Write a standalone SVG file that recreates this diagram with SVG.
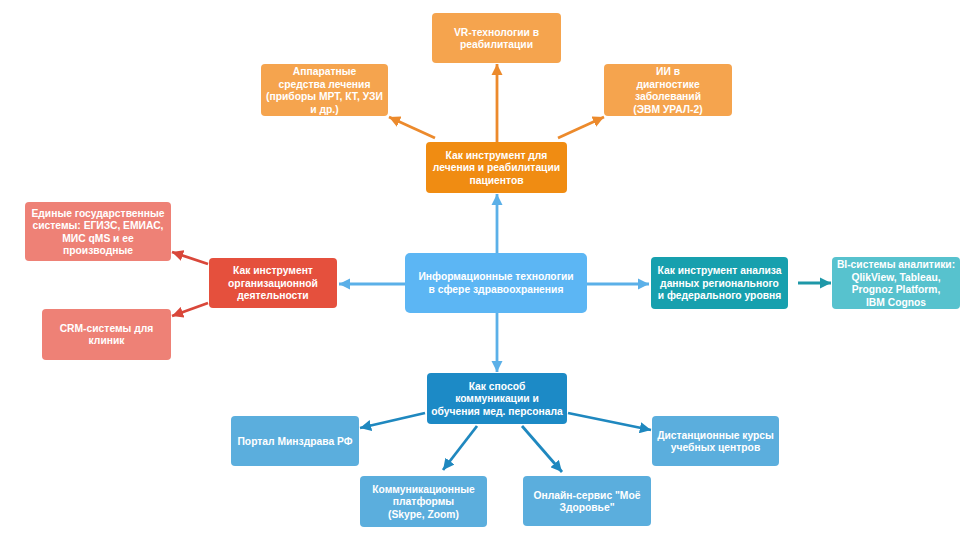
<svg xmlns="http://www.w3.org/2000/svg" width="975" height="537" viewBox="0 0 975 537">
<style>
text{font-family:"Liberation Sans",Arial,sans-serif;font-size:10.3px;font-weight:bold;fill:#fff;text-anchor:middle}
.box{stroke:none}
.ln{fill:none;stroke-width:2.8}
.o1{fill:#F08C12}.o2{fill:#F5A44E}
.r1{fill:#E5503D}.r2{fill:#EE8176}
.c{fill:#5CB6F4}
.t1{fill:#17A0AE}.t2{fill:#57C2CE}
.b1{fill:#1C8AC6}.b2{fill:#5BAEDD}
</style>
<defs>
<marker id="ao" viewBox="0 0 10 10" refX="10" refY="5" markerWidth="4" markerHeight="4" orient="auto"><path d="M0,0 L10,5 L0,10 z" fill="#EC8A2C"/></marker>
<marker id="ar" viewBox="0 0 10 10" refX="10" refY="5" markerWidth="4" markerHeight="4" orient="auto"><path d="M0,0 L10,5 L0,10 z" fill="#D9473A"/></marker>
<marker id="ac" viewBox="0 0 10 10" refX="10" refY="5" markerWidth="4" markerHeight="4" orient="auto"><path d="M0,0 L10,5 L0,10 z" fill="#5BB0E8"/></marker>
<marker id="at" viewBox="0 0 10 10" refX="10" refY="5" markerWidth="4" markerHeight="4" orient="auto"><path d="M0,0 L10,5 L0,10 z" fill="#1E98A8"/></marker>
<marker id="ab" viewBox="0 0 10 10" refX="10" refY="5" markerWidth="4" markerHeight="4" orient="auto"><path d="M0,0 L10,5 L0,10 z" fill="#1F88BF"/></marker>
</defs>
<rect width="975" height="537" fill="#fff"/>
<g id="connectors">
<line class="ln" stroke="#EC8A2C" marker-end="url(#ao)" x1="497" y1="142" x2="497" y2="64"/>
<line class="ln" stroke="#EC8A2C" marker-end="url(#ao)" x1="435" y1="138" x2="389" y2="117"/>
<line class="ln" stroke="#EC8A2C" marker-end="url(#ao)" x1="558" y1="138" x2="604" y2="117"/>
<line class="ln" stroke="#D9473A" marker-end="url(#ar)" x1="208" y1="264" x2="172" y2="252"/>
<line class="ln" stroke="#D9473A" marker-end="url(#ar)" x1="208" y1="303" x2="172" y2="316"/>
<line class="ln" stroke="#5BB0E8" marker-end="url(#ac)" x1="497" y1="253" x2="497" y2="194"/>
<line class="ln" stroke="#5BB0E8" marker-end="url(#ac)" x1="405" y1="284" x2="339" y2="284"/>
<line class="ln" stroke="#5BB0E8" marker-end="url(#ac)" x1="587" y1="284" x2="649" y2="284"/>
<line class="ln" stroke="#5BB0E8" marker-end="url(#ac)" x1="497" y1="313" x2="497" y2="372"/>
<line class="ln" stroke="#1E98A8" marker-end="url(#at)" x1="798" y1="283" x2="831" y2="283"/>
<line class="ln" stroke="#1F88BF" marker-end="url(#ab)" x1="425" y1="413" x2="360" y2="428"/>
<line class="ln" stroke="#1F88BF" marker-end="url(#ab)" x1="477" y1="426" x2="443" y2="470"/>
<line class="ln" stroke="#1F88BF" marker-end="url(#ab)" x1="522" y1="426" x2="562" y2="472"/>
<line class="ln" stroke="#1F88BF" marker-end="url(#ab)" x1="568" y1="413" x2="651" y2="430"/>
</g>
<g id="n-vr"><rect class="box o2" x="432" y="13" width="129" height="50" rx="4"/>
<text x="496.5" y="35.5">VR-технологии в</text><text x="496.5" y="48">реабилитации</text></g>
<g id="n-app"><rect class="box o2" x="261" y="64" width="127" height="52" rx="4"/>
<text x="324.5" y="75">Аппаратные</text><text x="324.5" y="87.5">средства лечения</text><text x="324.5" y="100">(приборы МРТ, КТ, УЗИ</text><text x="324.5" y="112.5">и др.)</text></g>
<g id="n-ai"><rect class="box o2" x="604" y="64" width="128" height="52" rx="4"/>
<text x="668" y="75">ИИ в</text><text x="668" y="87.5">диагностике</text><text x="668" y="100">заболеваний</text><text x="668" y="112.5">(ЭВМ УРАЛ-2)</text></g>
<g id="n-treat"><rect class="box o1" x="426" y="142" width="141" height="51" rx="4"/>
<text x="496.5" y="158.5">Как инструмент для</text><text x="496.5" y="171">лечения и реабилитации</text><text x="496.5" y="183.5">пациентов</text></g>
<g id="n-gov"><rect class="box r2" x="25" y="202" width="146" height="59" rx="4"/>
<text x="98" y="216.5">Единые государственные</text><text x="98" y="229">системы: ЕГИЗС, ЕМИАС,</text><text x="98" y="241.5">МИС qMS и ее</text><text x="98" y="254">производные</text></g>
<g id="n-org"><rect class="box r1" x="209" y="258" width="128" height="50" rx="4"/>
<text x="273" y="274">Как инструмент</text><text x="273" y="286.5">организационной</text><text x="273" y="299">деятельности</text></g>
<g id="n-crm"><rect class="box r2" x="42" y="309" width="129" height="51" rx="4"/>
<text x="106.5" y="331.5">CRM-системы для</text><text x="106.5" y="344">клиник</text></g>
<g id="n-center"><rect class="box c" x="405" y="253" width="182" height="60" rx="5"/>
<text x="496" y="280">Информационные технологии</text><text x="496" y="292.5">в сфере здравоохранения</text></g>
<g id="n-anal"><rect class="box t1" x="651" y="257" width="137" height="52" rx="4"/>
<text x="719.5" y="274">Как инструмент анализа</text><text x="719.5" y="286.5">данных регионального</text><text x="719.5" y="299">и федерального уровня</text></g>
<g id="n-bi"><rect class="box t2" x="832" y="257" width="128" height="52" rx="4"/>
<text x="896" y="268">BI-системы аналитики:</text><text x="896" y="280.5">QlikView, Tableau,</text><text x="896" y="293">Prognoz Platform,</text><text x="896" y="305.5">IBM Cognos</text></g>
<g id="n-comm"><rect class="box b1" x="427" y="373" width="140" height="51" rx="4"/>
<text x="497" y="389.5">Как способ</text><text x="497" y="402">коммуникации и</text><text x="497" y="414.5">обучения мед. персонала</text></g>
<g id="n-portal"><rect class="box b2" x="231" y="416" width="128" height="50" rx="4"/>
<text x="295" y="444.5">Портал Минздрава РФ</text></g>
<g id="n-plat"><rect class="box b2" x="360" y="476" width="127" height="51" rx="4"/>
<text x="423.5" y="492.5">Коммуникационные</text><text x="423.5" y="505">платформы</text><text x="423.5" y="517.5">(Skype, Zoom)</text></g>
<g id="n-online"><rect class="box b2" x="523" y="476" width="128" height="50" rx="4"/>
<text x="587" y="498.5">Онлайн-сервис "Моё</text><text x="587" y="511">Здоровье"</text></g>
<g id="n-dist"><rect class="box b2" x="652" y="416" width="127" height="50" rx="4"/>
<text x="715.5" y="438.5">Дистанционные курсы</text><text x="715.5" y="451">учебных центров</text></g>
</svg>
